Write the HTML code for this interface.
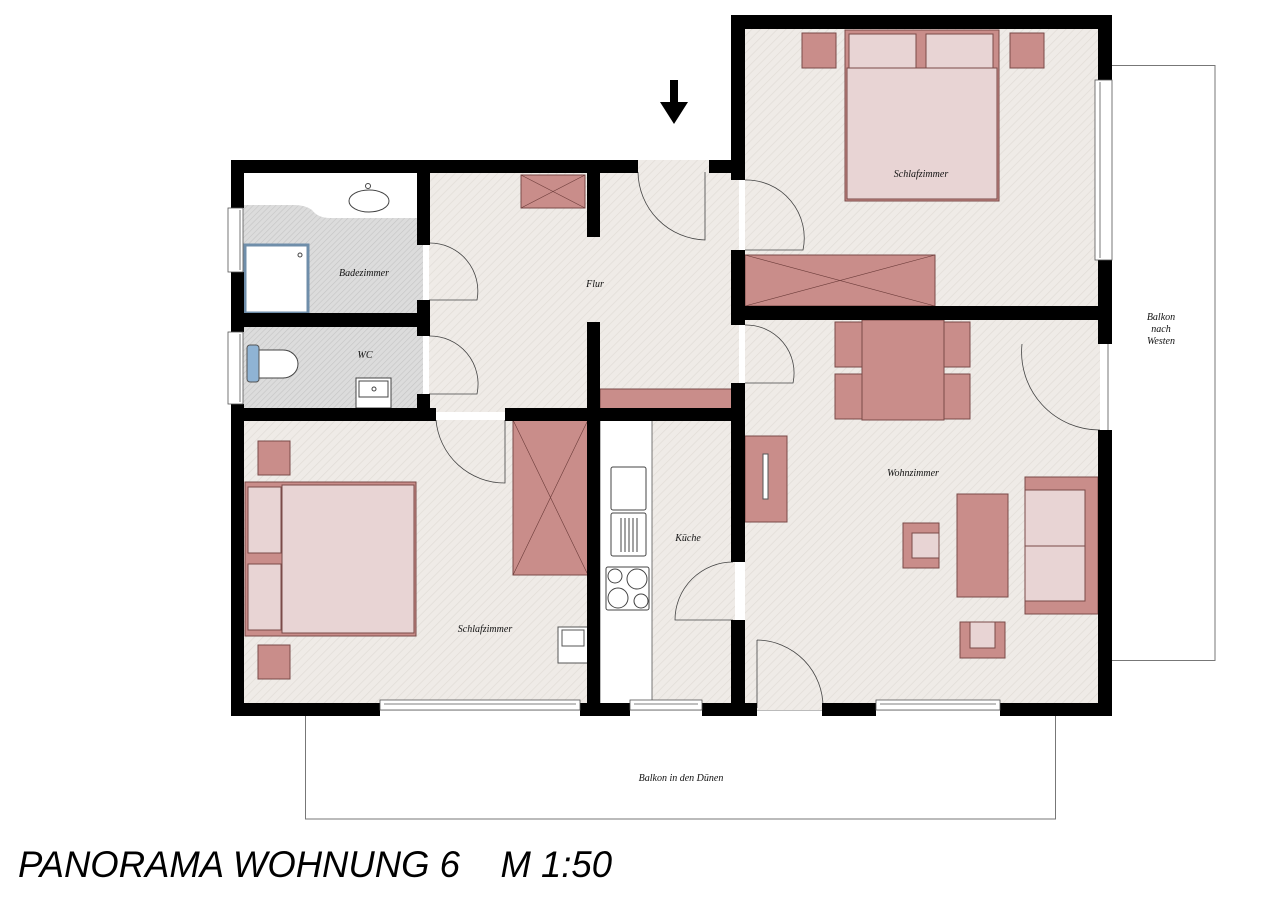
<!DOCTYPE html>
<html><head><meta charset="utf-8"><style>
html,body{margin:0;padding:0;background:#fff;}
svg{display:block;}
.lbl{font-family:"Liberation Serif",serif;font-style:italic;font-size:10px;fill:#111;}
</style></head><body>
<svg width="1280" height="905" viewBox="0 0 1280 905" xmlns="http://www.w3.org/2000/svg">
<defs>
<pattern id="fl" width="6" height="6" patternUnits="userSpaceOnUse" patternTransform="rotate(45)">
<rect width="6" height="6" fill="#efebe7"/><line x1="0" y1="0" x2="0" y2="6" stroke="#e2ddd8" stroke-width="1.5"/></pattern>
<pattern id="gr" width="4" height="4" patternUnits="userSpaceOnUse" patternTransform="rotate(45)">
<rect width="4" height="4" fill="#dcdcdc"/><line x1="0" y1="0" x2="0" y2="4" stroke="#c4c4c4" stroke-width="1.2"/></pattern>
</defs>
<!-- balconies -->
<rect x="305.5" y="710" width="750" height="109" fill="none" stroke="#777" stroke-width="1"/>
<rect x="1108" y="65.5" width="107" height="595" fill="#fff" stroke="#777" stroke-width="1"/>
<!-- floors -->
<rect x="243" y="172" width="180" height="240" fill="url(#gr)"/>
<path d="M243 172 H417 V218 H330 Q318 218 312 210 Q305 205 295 205 H243 Z" fill="#fff"/>
<rect x="429" y="172" width="310" height="240" fill="url(#fl)"/>
<rect x="745" y="29" width="355" height="280" fill="url(#fl)"/>
<rect x="745" y="320" width="355" height="390" fill="url(#fl)"/>
<rect x="243" y="420" width="350" height="290" fill="url(#fl)"/>
<rect x="600" y="420" width="135" height="290" fill="url(#fl)"/>
<rect x="638" y="160" width="71" height="14" fill="url(#fl)"/>
<!-- kitchen counter -->
<rect x="600" y="420" width="52" height="284" fill="#fff" stroke="#555" stroke-width="0.8"/>
<rect x="611" y="467" width="35" height="43" rx="2" fill="#fff" stroke="#444"/>
<rect x="611" y="513" width="35" height="43" rx="2" fill="#fff" stroke="#444"/>
<g stroke="#444"><line x1="621" y1="518" x2="621" y2="552"/><line x1="625" y1="518" x2="625" y2="552"/><line x1="629" y1="518" x2="629" y2="552"/><line x1="633" y1="518" x2="633" y2="552"/><line x1="637" y1="518" x2="637" y2="552"/></g>
<rect x="606" y="567" width="43" height="43" rx="2" fill="#fff" stroke="#444"/>
<g fill="#fff" stroke="#444"><circle cx="615" cy="576" r="7"/><circle cx="637" cy="579" r="10"/><circle cx="618" cy="598" r="10"/><circle cx="641" cy="601" r="7"/></g>
<!-- bathroom fixtures -->
<ellipse cx="369" cy="201" rx="20" ry="11" fill="#fff" stroke="#444"/>
<circle cx="368" cy="186" r="2.5" fill="#fff" stroke="#444"/>
<rect x="245" y="245" width="63" height="68" fill="#fff" stroke="#6f8eaa" stroke-width="3"/>
<circle cx="300" cy="255" r="2" fill="none" stroke="#444"/>
<path d="M256 350 H283 A15 14 0 0 1 283 378 H256 Z" fill="#fff" stroke="#444"/>
<rect x="247" y="345" width="12" height="37" rx="3" fill="#8fb3d4" stroke="#555"/>
<rect x="356" y="378" width="35" height="30" fill="#fff" stroke="#444"/>
<rect x="359" y="381" width="29" height="16" fill="#fff" stroke="#444"/>
<circle cx="374" cy="389" r="2" fill="none" stroke="#444"/>
<!-- furniture -->
<g stroke="#7a4a48" stroke-width="1">
<rect x="521" y="175" width="64" height="33" fill="#c98d8a"/>
<path d="M521 175 L585 208 M585 175 L521 208" stroke="#6b3b39" stroke-width="0.6"/>
<rect x="600" y="389" width="132" height="20" fill="#c98d8a"/>
<rect x="513" y="420" width="75" height="155" fill="#c98d8a"/>
<path d="M513 420 L588 575 M588 420 L513 575" stroke="#6b3b39" stroke-width="0.6"/>
<rect x="745" y="255" width="190" height="51" fill="#c98d8a"/>
<path d="M745 255 L935 306 M935 255 L745 306" stroke="#6b3b39" stroke-width="0.6"/>
<rect x="802" y="33" width="34" height="35" fill="#c98d8a"/>
<rect x="1010" y="33" width="34" height="35" fill="#c98d8a"/>
<rect x="845" y="30" width="154" height="171" fill="#c98d8a"/>
<rect x="849" y="34" width="67" height="34" fill="#e8d4d4"/>
<rect x="926" y="34" width="67" height="34" fill="#e8d4d4"/>
<rect x="847" y="68" width="150" height="131" fill="#e8d4d4"/>
<rect x="258" y="441" width="32" height="34" fill="#c98d8a"/>
<rect x="258" y="645" width="32" height="34" fill="#c98d8a"/>
<rect x="245" y="482" width="171" height="154" fill="#c98d8a"/>
<rect x="248" y="487" width="33" height="66" fill="#e8d4d4"/>
<rect x="248" y="564" width="33" height="66" fill="#e8d4d4"/>
<rect x="282" y="485" width="132" height="148" fill="#e8d4d4"/>
<rect x="558" y="627" width="30" height="36" fill="#fff" stroke="#555"/>
<rect x="562" y="630" width="22" height="16" fill="#fff" stroke="#555"/>
<rect x="835" y="322" width="135" height="45" fill="#c98d8a"/>
<rect x="835" y="374" width="135" height="45" fill="#c98d8a"/>
<rect x="862" y="320" width="82" height="100" fill="#c98d8a"/>
<rect x="745" y="436" width="42" height="86" fill="#c98d8a"/>
<rect x="763" y="454" width="5" height="45" fill="#fff" stroke="#555"/>
<rect x="903" y="523" width="36" height="45" fill="#c98d8a"/>
<rect x="912" y="533" width="27" height="25" fill="#e8d4d4"/>
<rect x="957" y="494" width="51" height="103" fill="#c98d8a"/>
<rect x="1025" y="477" width="73" height="137" fill="#c98d8a"/>
<rect x="1025" y="490" width="60" height="56" fill="#e8d4d4"/>
<rect x="1025" y="546" width="60" height="55" fill="#e8d4d4"/>
<rect x="960" y="622" width="45" height="36" fill="#c98d8a"/>
<rect x="970" y="622" width="25" height="26" fill="#e8d4d4"/>
</g>
<!-- doors (arcs) -->
<g fill="none" stroke="#444" stroke-width="0.8">
<path d="M429 243 A48 48 0 0 1 477 300 L429 300"/>
<path d="M429 336 A48 48 0 0 1 477 394 L429 394"/>
<path d="M436 420 A69 69 0 0 0 505 483 L505 420"/>
<path d="M638 172 A69 69 0 0 0 705 240 L705 172"/>
<path d="M745 180 A58 58 0 0 1 803 250 L745 250"/>
<path d="M745 325 A48 48 0 0 1 793 383 L745 383"/>
<path d="M1022 344 A78 78 0 0 0 1100 430"/>
<path d="M733 562 A58 58 0 0 0 675 620 L733 620"/>
<path d="M757 640 A67 67 0 0 1 823 708 M757 640 V708"/>
</g>
<!-- walls -->
<g fill="#000">
<rect x="231" y="160" width="407" height="13"/>
<rect x="709" y="160" width="36" height="13"/>
<rect x="231" y="160" width="13" height="48"/>
<rect x="231" y="272" width="13" height="60"/>
<rect x="231" y="404" width="13" height="312"/>
<rect x="231" y="313" width="198" height="14"/>
<rect x="417" y="160" width="13" height="85"/>
<rect x="417" y="300" width="13" height="36"/>
<rect x="417" y="394" width="13" height="26"/>
<rect x="231" y="408" width="205" height="13"/>
<rect x="505" y="408" width="240" height="13"/>
<rect x="587" y="172" width="13" height="65"/>
<rect x="587" y="322" width="13" height="394"/>
<rect x="731" y="15" width="14" height="165"/>
<rect x="731" y="250" width="14" height="75"/>
<rect x="731" y="383" width="14" height="179"/>
<rect x="731" y="620" width="14" height="96"/>
<rect x="731" y="15" width="381" height="14"/>
<rect x="1098" y="15" width="14" height="65"/>
<rect x="1098" y="260" width="14" height="84"/>
<rect x="1098" y="430" width="14" height="286"/>
<rect x="731" y="306" width="381" height="14"/>
<rect x="231" y="703" width="149" height="13"/>
<rect x="580" y="703" width="50" height="13"/>
<rect x="702" y="703" width="55" height="13"/>
<rect x="822" y="703" width="54" height="13"/>
<rect x="1000" y="703" width="112" height="13"/>
</g>
<!-- windows -->
<g fill="#fff" stroke="#555" stroke-width="0.8">
<rect x="380" y="700" width="200" height="10"/><line x1="384" y1="704" x2="576" y2="704"/>
<rect x="630" y="700" width="72" height="10"/><line x1="634" y1="704" x2="698" y2="704"/>
<rect x="876" y="700" width="124" height="10"/><line x1="880" y1="704" x2="996" y2="704"/>
<rect x="228" y="208" width="15" height="64"/><line x1="240" y1="210" x2="240" y2="270"/>
<rect x="228" y="332" width="15" height="72"/><line x1="240" y1="334" x2="240" y2="402"/>
<rect x="1095" y="80" width="17" height="180"/><line x1="1100" y1="82" x2="1100" y2="258"/>
</g>
<!-- arrow -->
<rect x="670" y="80" width="8" height="24" fill="#000"/>
<polygon points="660,102 688,102 674,124" fill="#000"/>
<!-- labels -->
<text class="lbl" x="364" y="276" text-anchor="middle">Badezimmer</text>
<text class="lbl" x="365" y="358" text-anchor="middle">WC</text>
<text class="lbl" x="595" y="287" text-anchor="middle">Flur</text>
<text class="lbl" x="921" y="177" text-anchor="middle">Schlafzimmer</text>
<text class="lbl" x="913" y="476" text-anchor="middle">Wohnzimmer</text>
<text class="lbl" x="688" y="541" text-anchor="middle">Küche</text>
<text class="lbl" x="485" y="632" text-anchor="middle">Schlafzimmer</text>
<text class="lbl" x="1161" y="320" text-anchor="middle">Balkon</text>
<text class="lbl" x="1161" y="332" text-anchor="middle">nach</text>
<text class="lbl" x="1161" y="344" text-anchor="middle">Westen</text>
<text class="lbl" x="681" y="781" text-anchor="middle">Balkon in den Dünen</text>
<text x="18" y="877" font-family="Liberation Sans, sans-serif" font-style="italic" font-size="37" fill="#000" textLength="594" lengthAdjust="spacingAndGlyphs" xml:space="preserve">PANORAMA WOHNUNG 6    M 1:50</text>
</svg>
</body></html>
